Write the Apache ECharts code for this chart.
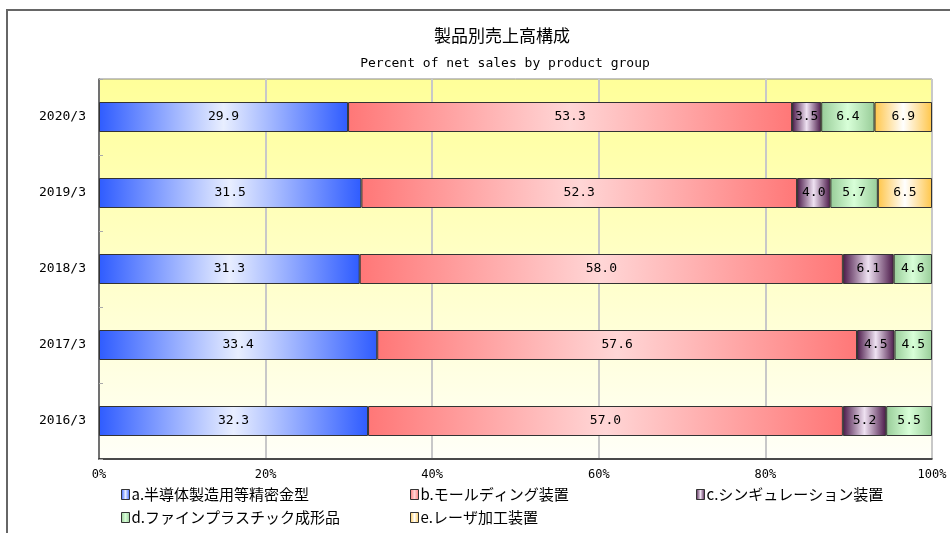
<!DOCTYPE html>
<html>
<head>
<meta charset="utf-8">
<script src="https://cdn.jsdelivr.net/npm/echarts@6/dist/echarts.min.js"></script>
<style>
html,body{margin:0;padding:0;background:#fff;}
#chart{width:950px;height:533px;}
</style>
</head>
<body>
<div id="chart"></div>
<script>
// ---- data ----
const categories = ['2016/3', '2017/3', '2018/3', '2019/3', '2020/3'];
const seriesNames = ['a.半導体製造用等精密金型', 'b.モールディング装置', 'c.シンギュレーション装置', 'd.ファインプラスチック成形品', 'e.レーザ加工装置'];
const precisionMolds = [32.3, 33.4, 31.3, 31.5, 29.9];
const moldingEquipment = [57.0, 57.6, 58.0, 52.3, 53.3];
const singulation = [5.2, 4.5, 6.1, 4.0, 3.5];
const finePlastics = [5.5, 4.5, 4.6, 5.7, 6.4];
const laserEquipment = [null, null, null, 6.5, 6.9];
const xMin = 0, xMax = 100, xInterval = 20;
const titleText = '製品別売上高構成';
const subtitleText = 'Percent of net sales by product group';

// ---- styling ----
const MONO = "'DejaVu Sans Mono', 'Liberation Mono', monospace";
const JFONT = "'Noto Sans CJK JP', sans-serif";
function grad(edge, mid) {
  return new echarts.graphic.LinearGradient(0, 0, 1, 0, [
    { offset: 0, color: edge }, { offset: 0.5, color: mid }, { offset: 1, color: edge }
  ]);
}
const fills = [
  grad('#2f5cff', '#e8eeff'),
  grad('#ff7777', '#ffd6d6'),
  grad('#4a1848', '#efe2f2'),
  grad('#98cc98', '#d8ffd8'),
  grad('#ffc64a', '#ffffff')
];
const valuesList = [precisionMolds, moldingEquipment, singulation, finePlastics, laserEquipment];

const series = valuesList.map((vals, i) => ({
  name: seriesNames[i],
  type: 'bar',
  stack: 'total',
  barWidth: 30,
  data: vals,
  itemStyle: { color: fills[i], borderColor: '#333', borderWidth: 1 },
  label: {
    show: true, position: 'inside', color: '#000', fontSize: 13, fontFamily: MONO,
    formatter: p => (p.value == null ? '' : Number(p.value).toFixed(1))
  },
  emphasis: { disabled: true }
}));

const legendPos = [[121, 487], [410, 487], [696, 487], [121, 510], [410, 510]];
const legends = seriesNames.map((n, i) => ({
  data: [n],
  left: legendPos[i][0], top: legendPos[i][1],
  padding: 0,
  icon: 'rect',
  itemWidth: 8, itemHeight: 10,
  itemStyle: { borderColor: '#333', borderWidth: 1 },
  textStyle: { fontSize: 15, color: '#000', fontFamily: JFONT, padding: [0, 0, 0, -3] },
  selectedMode: false
}));

const chart = echarts.init(document.getElementById('chart'));
chart.setOption({
  animation: false,
  backgroundColor: '#fff',
  title: [
    { text: titleText, left: 497, textAlign: 'center', top: 22,
      textStyle: { fontSize: 17, fontWeight: 'normal', color: '#000', fontFamily: JFONT } },
    { text: subtitleText, left: 500, textAlign: 'center', top: 52,
      textStyle: { fontSize: 13, fontWeight: 'normal', color: '#000', fontFamily: MONO } }
  ],
  graphic: [{
    type: 'rect', silent: true,
    shape: { x: 7, y: 10, width: 1200, height: 1000 },
    style: { fill: 'none', stroke: '#666', lineWidth: 2 }
  }],
  legend: legends,
  grid: {
    left: 99, right: 18, top: 79, bottom: 74,
    show: true, borderColor: '#888', borderWidth: 1,
    backgroundColor: new echarts.graphic.LinearGradient(0, 0, 0, 1, [
      { offset: 0, color: '#ffff99' }, { offset: 1, color: '#fffff8' }
    ])
  },
  xAxis: {
    type: 'value', min: xMin, max: xMax, interval: xInterval,
    axisLine: { show: true, lineStyle: { color: '#222', width: 1.5 } },
    axisTick: { show: false },
    splitLine: { show: true, lineStyle: { color: '#c8c8c8', width: 2 } },
    axisLabel: { formatter: '{value}%', color: '#000', fontSize: 12, fontFamily: MONO, margin: 10 }
  },
  yAxis: {
    type: 'category', data: categories,
    axisLine: { show: true, lineStyle: { color: '#555', width: 1.5 } },
    axisTick: { show: true, inside: true, length: 4, lineStyle: { color: '#aaa' } },
    axisLabel: { color: '#000', fontSize: 13, fontFamily: MONO, margin: 13 },
    splitLine: { show: false }
  },
  series: series
});
</script>
</body>
</html>
